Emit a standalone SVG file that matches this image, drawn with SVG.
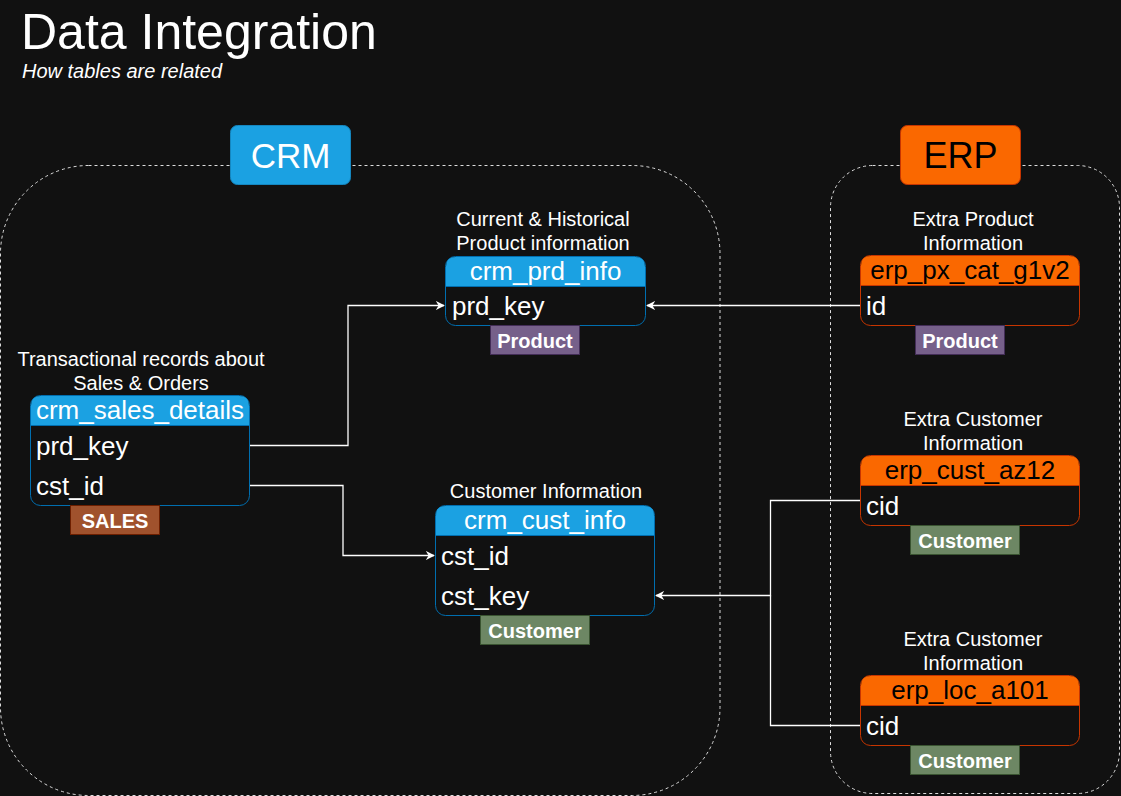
<svg xmlns="http://www.w3.org/2000/svg" width="1121" height="796" viewBox="0 0 1121 796">
<defs>
<style>
.t{font-family:"Liberation Sans",Arial,sans-serif;fill:#fff}
.title{font-size:50px}
.sub{font-size:20px;font-style:italic}
.lbl{font-size:20px;text-anchor:middle}
.hdr{font-size:26px;text-anchor:middle}
.row{font-size:26px}
.tag{font-size:20px;font-weight:bold;text-anchor:middle}
.cont{fill:none;stroke:#ddd;stroke-width:1;stroke-dasharray:3 3}
.tb{fill:#111;stroke:#006EAF;stroke-width:1}
.tbo{fill:#111;stroke:#C73500;stroke-width:1}
.hb{fill:#1BA1E2}
.ho{fill:#FA6800}
.conn{fill:none;stroke:#fff;stroke-width:1.3}
</style>
<marker id="arr" viewBox="0 0 10 10" refX="9" refY="5" markerWidth="9" markerHeight="9" markerUnits="userSpaceOnUse" orient="auto">
<path d="M0,0 L10,5 L0,10 L3,5 Z" fill="#fff"/>
</marker>
</defs>
<rect width="1121" height="796" fill="#111"/>
<text class="t title" x="21" y="49">Data Integration</text>
<text class="t sub" x="22" y="78">How tables are related</text>

<g id="crm-container">
<rect class="cont" x="0.5" y="165.5" width="719.5" height="630" rx="88" ry="88"/>
<rect x="230.5" y="125.5" width="120" height="59" rx="7" fill="#1BA1E2" stroke="#1587c0"/>
<text class="t" x="290.5" y="168" font-size="35" text-anchor="middle">CRM</text>
</g>
<g id="erp-container">
<rect class="cont" x="830.5" y="165.5" width="289" height="628" rx="42" ry="42"/>
<rect x="900.5" y="125.5" width="120" height="59" rx="7" fill="#FA6800" stroke="#C73500"/>
<text class="t" x="960.5" y="168" font-size="36" text-anchor="middle" style="fill:#000">ERP</text>
</g>

<g id="connectors">
<path class="conn" d="M250,445.5 H348 V305.5 H444" marker-end="url(#arr)"/>
<path class="conn" d="M250,485.5 H343 V555.5 H434" marker-end="url(#arr)"/>
<path class="conn" d="M860,305.5 H647" marker-end="url(#arr)"/>
<path class="conn" d="M860,500.5 H770.5 V595.5 H656" marker-end="url(#arr)"/>
<path class="conn" d="M860,725.5 H770.5 V595.5"/>
</g>

<g id="crm_prd_info">
<text class="t lbl" x="543" y="226">Current &amp; Historical</text>
<text class="t lbl" x="543" y="250">Product information</text>
<rect class="tb" x="445.5" y="256.5" width="200" height="69" rx="10"/>
<path class="hb" d="M446,286 V266.5 Q446,257 455.5,257 H635.5 Q645,257 645,266.5 V286 Z"/>
<line x1="446" y1="286.5" x2="645" y2="286.5" stroke="#006EAF"/>
<text class="t hdr" x="545.5" y="280">crm_prd_info</text>
<text class="t row" x="452" y="315">prd_key</text>
<rect x="490.5" y="325.5" width="89" height="29" fill="#76608A" stroke="#432D57"/>
<text class="t tag" x="535" y="348">Product</text>
</g>

<g id="crm_sales_details">
<text class="t lbl" x="141" y="366">Transactional records about</text>
<text class="t lbl" x="141" y="390">Sales &amp; Orders</text>
<rect class="tb" x="30.5" y="395.5" width="219" height="110" rx="10"/>
<path class="hb" d="M31,425 V405.5 Q31,396 40.5,396 H239.5 Q249,396 249,405.5 V425 Z"/>
<line x1="31" y1="425.5" x2="249" y2="425.5" stroke="#006EAF"/>
<text class="t hdr" x="140" y="419">crm_sales_details</text>
<text class="t row" x="36" y="455">prd_key</text>
<text class="t row" x="36" y="495">cst_id</text>
<rect x="70.5" y="505.5" width="89" height="29" fill="#A0522D" stroke="#6D1F00"/>
<text class="t tag" x="115" y="528">SALES</text>
</g>

<g id="crm_cust_info">
<text class="t lbl" x="546" y="498">Customer Information</text>
<rect class="tb" x="435.5" y="505.5" width="219" height="110" rx="10"/>
<path class="hb" d="M436,535 V515.5 Q436,506 445.5,506 H644.5 Q654,506 654,515.5 V535 Z"/>
<line x1="436" y1="535.5" x2="654" y2="535.5" stroke="#006EAF"/>
<text class="t hdr" x="545" y="529">crm_cust_info</text>
<text class="t row" x="441" y="565">cst_id</text>
<text class="t row" x="441" y="605">cst_key</text>
<rect x="480.5" y="615.5" width="109" height="29" fill="#6D8764" stroke="#3A5431"/>
<text class="t tag" x="535" y="638">Customer</text>
</g>

<g id="erp_px_cat_g1v2">
<text class="t lbl" x="973" y="226">Extra Product</text>
<text class="t lbl" x="973" y="250">Information</text>
<rect class="tbo" x="860.5" y="255.5" width="219" height="70" rx="10"/>
<path class="ho" d="M861,285 V265.5 Q861,256 870.5,256 H1069.5 Q1079,256 1079,265.5 V285 Z"/>
<line x1="861" y1="285.5" x2="1079" y2="285.5" stroke="#C73500"/>
<text class="t hdr" x="970" y="279" style="fill:#000">erp_px_cat_g1v2</text>
<text class="t row" x="866" y="315">id</text>
<rect x="915.5" y="325.5" width="89" height="29" fill="#76608A" stroke="#432D57"/>
<text class="t tag" x="960" y="348">Product</text>
</g>

<g id="erp_cust_az12">
<text class="t lbl" x="973" y="426">Extra Customer</text>
<text class="t lbl" x="973" y="450">Information</text>
<rect class="tbo" x="860.5" y="455.5" width="219" height="70" rx="10"/>
<path class="ho" d="M861,485 V465.5 Q861,456 870.5,456 H1069.5 Q1079,456 1079,465.5 V485 Z"/>
<line x1="861" y1="485.5" x2="1079" y2="485.5" stroke="#C73500"/>
<text class="t hdr" x="970" y="479" style="fill:#000">erp_cust_az12</text>
<text class="t row" x="866" y="515">cid</text>
<rect x="910.5" y="525.5" width="109" height="29" fill="#6D8764" stroke="#3A5431"/>
<text class="t tag" x="965" y="548">Customer</text>
</g>

<g id="erp_loc_a101">
<text class="t lbl" x="973" y="646">Extra Customer</text>
<text class="t lbl" x="973" y="670">Information</text>
<rect class="tbo" x="860.5" y="675.5" width="219" height="70" rx="10"/>
<path class="ho" d="M861,705 V685.5 Q861,676 870.5,676 H1069.5 Q1079,676 1079,685.5 V705 Z"/>
<line x1="861" y1="705.5" x2="1079" y2="705.5" stroke="#C73500"/>
<text class="t hdr" x="970" y="699" style="fill:#000">erp_loc_a101</text>
<text class="t row" x="866" y="735">cid</text>
<rect x="910.5" y="745.5" width="109" height="29" fill="#6D8764" stroke="#3A5431"/>
<text class="t tag" x="965" y="768">Customer</text>
</g>
</svg>
